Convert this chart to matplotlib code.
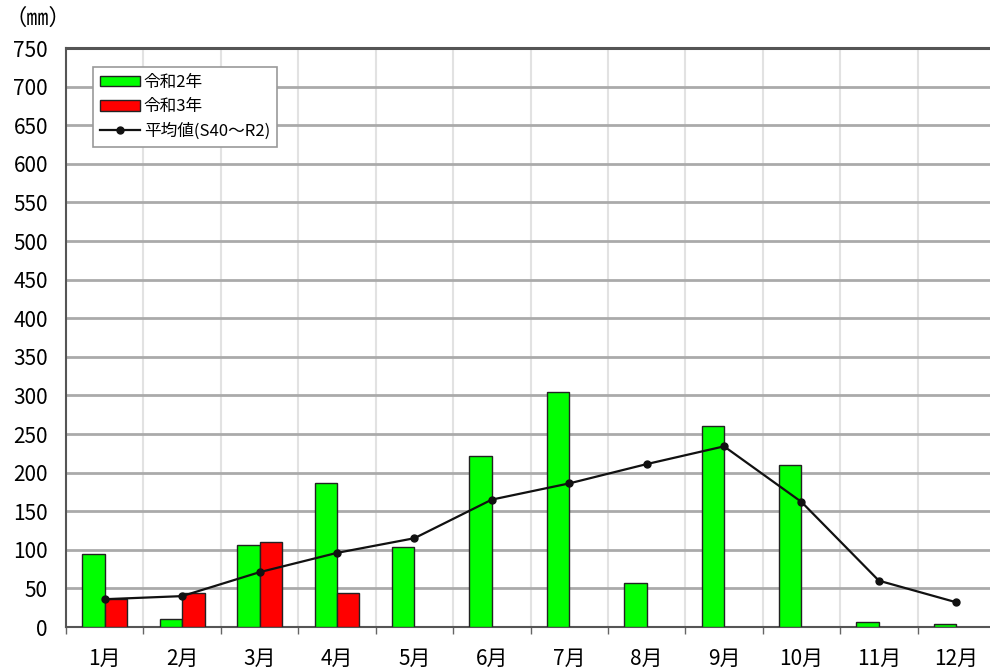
import matplotlib.pyplot as plt
import numpy as np

plt.rcParams['font.family'] = ['Noto Sans CJK JP', 'DejaVu Sans']

months = [f"{m}月" for m in range(1, 13)]
rain_r2 = [95, 11, 106, 186, 103, 221, 304, 57, 261, 210, 6, 4]
rain_r3 = [36, 44, 110, 44, np.nan, np.nan, np.nan, np.nan, np.nan, np.nan, np.nan, np.nan]
rain_avg = [36, 40, 71, 96, 115, 165, 186, 211, 234, 162, 60, 32]

fig = plt.figure(figsize=(9.9, 6.69), dpi=100)
ax = fig.add_axes([66 / 990, 42 / 669, 929 / 990, 579 / 669])

x = np.arange(len(months))
bw = 0.29
h_r2 = ax.bar(x - bw / 2, rain_r2, bw, color="#00ff00", edgecolor="#222222",
              linewidth=1.0, label="令和2年", zorder=3)
h_r3 = ax.bar(x + bw / 2, rain_r3, bw, color="#ff0000", edgecolor="#222222",
              linewidth=1.0, label="令和3年", zorder=3)
h_avg, = ax.plot(x, rain_avg, color="#111111", linewidth=1.6, marker="o",
                 markersize=5, label="平均値(S40～R2)", zorder=4)

ax.set_xlim(-0.5, 11.5)
ax.set_ylim(0, 750)
ax.set_yticks(np.arange(0, 751, 50))
ax.yaxis.grid(True, color="#aaaaaa", linewidth=2, zorder=0)
ax.set_axisbelow(True)

# month boundaries: vertical grid + small ticks, labels at centres
ax.set_xticks(np.arange(-0.5, 12, 1))
ax.set_xticklabels([])
ax.set_xticks(x, minor=True)
ax.set_xticklabels(months, minor=True)
ax.tick_params(axis="x", which="major", length=5, width=1, color="#666666")
ax.tick_params(axis="x", which="minor", length=0, pad=15, labelsize=15)
ax.tick_params(axis="y", length=0, pad=13, labelsize=15)
for b in np.arange(0.5, 11.5, 1):
    ax.axvline(b, color="#e2e2e2", linewidth=1.5, zorder=0)

for side in ("left", "bottom", "top"):
    ax.spines[side].set_color("#555555")
    ax.spines[side].set_linewidth(1.5)
ax.spines["top"].set_linewidth(2.2)
ax.spines["right"].set_visible(False)

fig.text(4 / 990, 1 - 18 / 669, "（㎜）", fontsize=16, va="center", ha="left")

leg = ax.legend(handles=[h_r2, h_r3, h_avg],
                loc="upper left", bbox_to_anchor=(27 / 929, 1 - 19 / 579),
                fancybox=False, framealpha=1, edgecolor="#999999",
                fontsize=12, handlelength=2.4, handleheight=0.6,
                borderpad=0.4, labelspacing=0.45, handletextpad=0.25,
                borderaxespad=0)
leg.get_frame().set_linewidth(1.2)

fig.savefig("out.png", dpi=100)
